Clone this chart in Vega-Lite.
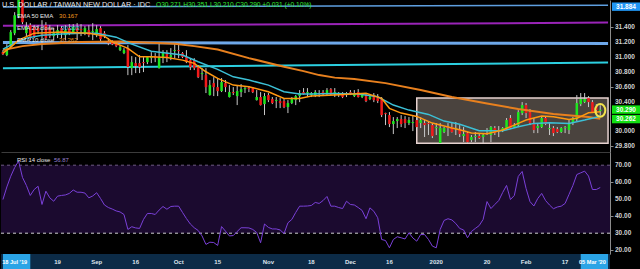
{
"$schema": "https://vega.github.io/schema/vega-lite/v6.json",
"background": "#000000",
"padding": 0,
"spacing": 0,
"config": {
  "view": {"stroke": null},
  "font": "Liberation Sans",
  "axisX": {"labels": false, "ticks": false, "grid": false, "title": null, "domainColor": "#3c3c3c", "domainWidth": 1},
  "axisY": {"grid": false, "title": null, "labels": false, "tickColor": "#8c8c8c", "tickSize": 3, "domainColor": "#8c8c8c"}
},
"datasets": {
  "candles": [
{"d":"2019-07-30","o":31.067,"h":31.094,"l":31.027,"c":31.040,"r":49.8},
{"d":"2019-07-31","o":31.027,"h":31.175,"l":31.013,"c":31.121,"r":57.2},
{"d":"2019-08-01","o":31.148,"h":31.364,"l":31.121,"c":31.337,"r":63.5},
{"d":"2019-08-02","o":31.323,"h":31.606,"l":31.296,"c":31.566,"r":68.6},
{"d":"2019-08-05","o":31.552,"h":31.884,"l":31.525,"c":31.800,"r":72.4},
{"d":"2019-08-06","o":31.780,"h":31.840,"l":31.445,"c":31.471,"r":62.8},
{"d":"2019-08-07","o":31.323,"h":31.471,"l":31.283,"c":31.404,"r":58.1},
{"d":"2019-08-08","o":31.431,"h":31.458,"l":31.229,"c":31.256,"r":52.2},
{"d":"2019-08-09","o":31.404,"h":31.431,"l":31.256,"c":31.283,"r":55.7},
{"d":"2019-08-12","o":31.391,"h":31.431,"l":31.310,"c":31.350,"r":57.6},
{"d":"2019-08-13","o":31.310,"h":31.498,"l":31.094,"c":31.296,"r":46.9},
{"d":"2019-08-14","o":31.431,"h":31.471,"l":31.229,"c":31.256,"r":54.7},
{"d":"2019-08-15","o":31.391,"h":31.431,"l":31.256,"c":31.283,"r":50.8},
{"d":"2019-08-16","o":31.283,"h":31.391,"l":31.229,"c":31.323,"r":48.8},
{"d":"2019-08-19","o":31.310,"h":31.431,"l":31.256,"c":31.364,"r":51.8},
{"d":"2019-08-20","o":31.391,"h":31.418,"l":31.256,"c":31.323,"r":52.2},
{"d":"2019-08-21","o":31.296,"h":31.431,"l":31.229,"c":31.364,"r":52.5},
{"d":"2019-08-22","o":31.391,"h":31.445,"l":31.296,"c":31.337,"r":53.4},
{"d":"2019-08-23","o":31.337,"h":31.445,"l":31.310,"c":31.404,"r":55.4},
{"d":"2019-08-26","o":31.391,"h":31.458,"l":31.229,"c":31.350,"r":54.1},
{"d":"2019-08-27","o":31.377,"h":31.445,"l":31.283,"c":31.364,"r":54.1},
{"d":"2019-08-28","o":31.323,"h":31.418,"l":31.296,"c":31.391,"r":53.6},
{"d":"2019-08-29","o":31.364,"h":31.431,"l":31.269,"c":31.296,"r":50.8},
{"d":"2019-08-30","o":31.337,"h":31.458,"l":31.229,"c":31.350,"r":51.9},
{"d":"2019-09-02","o":31.296,"h":31.431,"l":31.269,"c":31.377,"r":53.8},
{"d":"2019-09-03","o":31.391,"h":31.418,"l":31.215,"c":31.242,"r":50.4},
{"d":"2019-09-04","o":31.323,"h":31.350,"l":31.256,"c":31.283,"r":46.6},
{"d":"2019-09-05","o":31.215,"h":31.256,"l":31.161,"c":31.188,"r":45.1},
{"d":"2019-09-06","o":31.202,"h":31.229,"l":31.161,"c":31.175,"r":44.2},
{"d":"2019-09-09","o":31.188,"h":31.215,"l":31.134,"c":31.148,"r":43.1},
{"d":"2019-09-10","o":31.094,"h":31.161,"l":31.081,"c":31.134,"r":42.5},
{"d":"2019-09-11","o":31.054,"h":31.121,"l":31.040,"c":31.094,"r":41.0},
{"d":"2019-09-12","o":31.121,"h":31.161,"l":30.757,"c":30.865,"r":32.2},
{"d":"2019-09-13","o":30.851,"h":31.013,"l":30.757,"c":30.932,"r":33.8},
{"d":"2019-09-16","o":30.919,"h":31.000,"l":30.784,"c":30.878,"r":33.1},
{"d":"2019-09-17","o":30.919,"h":31.027,"l":30.784,"c":30.865,"r":32.8},
{"d":"2019-09-18","o":30.932,"h":31.000,"l":30.798,"c":30.919,"r":38.1},
{"d":"2019-09-19","o":30.932,"h":31.013,"l":30.905,"c":31.000,"r":41.6},
{"d":"2019-09-20","o":30.986,"h":31.067,"l":30.919,"c":31.000,"r":41.6},
{"d":"2019-09-23","o":31.013,"h":31.054,"l":30.932,"c":30.986,"r":41.0},
{"d":"2019-09-24","o":30.851,"h":31.188,"l":30.845,"c":31.000,"r":43.6},
{"d":"2019-09-25","o":30.986,"h":31.094,"l":30.919,"c":31.054,"r":45.7},
{"d":"2019-09-26","o":31.054,"h":31.094,"l":30.932,"c":31.000,"r":44.1},
{"d":"2019-09-27","o":31.000,"h":31.121,"l":30.959,"c":31.027,"r":45.7},
{"d":"2019-09-30","o":31.081,"h":31.188,"l":30.986,"c":31.094,"r":45.9},
{"d":"2019-10-01","o":31.094,"h":31.188,"l":30.986,"c":31.081,"r":45.9},
{"d":"2019-10-02","o":31.054,"h":31.067,"l":30.986,"c":31.000,"r":42.2},
{"d":"2019-10-03","o":31.000,"h":31.094,"l":30.919,"c":30.932,"r":38.6},
{"d":"2019-10-04","o":30.959,"h":30.986,"l":30.825,"c":30.865,"r":35.4},
{"d":"2019-10-07","o":30.959,"h":30.986,"l":30.825,"c":30.851,"r":33.2},
{"d":"2019-10-08","o":30.865,"h":30.892,"l":30.717,"c":30.730,"r":31.6},
{"d":"2019-10-09","o":30.771,"h":30.851,"l":30.690,"c":30.784,"r":28.4},
{"d":"2019-10-10","o":30.757,"h":30.851,"l":30.515,"c":30.595,"r":23.4},
{"d":"2019-10-11","o":30.488,"h":30.690,"l":30.480,"c":30.622,"r":24.7},
{"d":"2019-10-14","o":30.649,"h":30.730,"l":30.474,"c":30.595,"r":24.5},
{"d":"2019-10-15","o":30.595,"h":30.717,"l":30.474,"c":30.541,"r":22.8},
{"d":"2019-10-16","o":30.541,"h":30.717,"l":30.528,"c":30.663,"r":33.9},
{"d":"2019-10-17","o":30.649,"h":30.690,"l":30.528,"c":30.595,"r":31.2},
{"d":"2019-10-18","o":30.461,"h":30.622,"l":30.455,"c":30.528,"r":28.4},
{"d":"2019-10-21","o":30.528,"h":30.595,"l":30.488,"c":30.515,"r":28.6},
{"d":"2019-10-22","o":30.474,"h":30.622,"l":30.353,"c":30.541,"r":31.0},
{"d":"2019-10-23","o":30.528,"h":30.636,"l":30.461,"c":30.568,"r":33.2},
{"d":"2019-10-24","o":30.568,"h":30.595,"l":30.515,"c":30.582,"r":33.2},
{"d":"2019-10-25","o":30.582,"h":30.609,"l":30.528,"c":30.568,"r":33.1},
{"d":"2019-10-28","o":30.582,"h":30.595,"l":30.515,"c":30.528,"r":32.2},
{"d":"2019-10-29","o":30.420,"h":30.555,"l":30.414,"c":30.461,"r":30.4},
{"d":"2019-10-30","o":30.461,"h":30.528,"l":30.347,"c":30.353,"r":24.4},
{"d":"2019-10-31","o":30.366,"h":30.515,"l":30.218,"c":30.474,"r":35.4},
{"d":"2019-11-01","o":30.488,"h":30.515,"l":30.393,"c":30.420,"r":33.4},
{"d":"2019-11-04","o":30.434,"h":30.461,"l":30.366,"c":30.380,"r":32.5},
{"d":"2019-11-05","o":30.407,"h":30.461,"l":30.312,"c":30.420,"r":32.5},
{"d":"2019-11-06","o":30.407,"h":30.447,"l":30.312,"c":30.380,"r":31.9},
{"d":"2019-11-07","o":30.407,"h":30.434,"l":30.312,"c":30.326,"r":29.8},
{"d":"2019-11-08","o":30.326,"h":30.420,"l":30.245,"c":30.380,"r":36.1},
{"d":"2019-11-11","o":30.380,"h":30.461,"l":30.366,"c":30.434,"r":38.1},
{"d":"2019-11-12","o":30.420,"h":30.488,"l":30.353,"c":30.474,"r":42.2},
{"d":"2019-11-13","o":30.474,"h":30.555,"l":30.393,"c":30.515,"r":45.9},
{"d":"2019-11-14","o":30.528,"h":30.582,"l":30.495,"c":30.501,"r":45.9},
{"d":"2019-11-15","o":30.515,"h":30.582,"l":30.461,"c":30.528,"r":46.0},
{"d":"2019-11-18","o":30.488,"h":30.528,"l":30.461,"c":30.515,"r":46.3},
{"d":"2019-11-19","o":30.488,"h":30.555,"l":30.461,"c":30.528,"r":48.1},
{"d":"2019-11-20","o":30.515,"h":30.555,"l":30.461,"c":30.501,"r":47.5},
{"d":"2019-11-21","o":30.528,"h":30.555,"l":30.474,"c":30.501,"r":49.2},
{"d":"2019-11-22","o":30.515,"h":30.582,"l":30.488,"c":30.555,"r":51.6},
{"d":"2019-11-25","o":30.568,"h":30.582,"l":30.488,"c":30.501,"r":45.9},
{"d":"2019-11-26","o":30.515,"h":30.582,"l":30.461,"c":30.528,"r":45.9},
{"d":"2019-11-27","o":30.515,"h":30.528,"l":30.461,"c":30.501,"r":45.1},
{"d":"2019-11-28","o":30.501,"h":30.528,"l":30.447,"c":30.461,"r":44.5},
{"d":"2019-11-29","o":30.488,"h":30.528,"l":30.461,"c":30.501,"r":48.8},
{"d":"2019-12-02","o":30.528,"h":30.555,"l":30.488,"c":30.501,"r":46.9},
{"d":"2019-12-03","o":30.474,"h":30.555,"l":30.461,"c":30.501,"r":46.6},
{"d":"2019-12-04","o":30.528,"h":30.568,"l":30.455,"c":30.461,"r":45.1},
{"d":"2019-12-05","o":30.461,"h":30.515,"l":30.447,"c":30.501,"r":43.4},
{"d":"2019-12-06","o":30.474,"h":30.501,"l":30.393,"c":30.407,"r":38.5},
{"d":"2019-12-09","o":30.434,"h":30.501,"l":30.420,"c":30.461,"r":44.9},
{"d":"2019-12-10","o":30.461,"h":30.515,"l":30.393,"c":30.420,"r":42.9},
{"d":"2019-12-11","o":30.447,"h":30.501,"l":30.380,"c":30.407,"r":39.1},
{"d":"2019-12-12","o":30.434,"h":30.461,"l":30.191,"c":30.218,"r":26.3},
{"d":"2019-12-13","o":30.245,"h":30.250,"l":30.083,"c":30.231,"r":25.7},
{"d":"2019-12-16","o":30.218,"h":30.258,"l":30.056,"c":30.097,"r":21.4},
{"d":"2019-12-17","o":30.097,"h":30.191,"l":29.962,"c":30.137,"r":26.3},
{"d":"2019-12-18","o":30.137,"h":30.191,"l":30.043,"c":30.164,"r":27.9},
{"d":"2019-12-19","o":30.164,"h":30.218,"l":30.056,"c":30.097,"r":27.3},
{"d":"2019-12-20","o":30.164,"h":30.204,"l":30.043,"c":30.110,"r":26.6},
{"d":"2019-12-23","o":30.110,"h":30.191,"l":30.083,"c":30.151,"r":30.2},
{"d":"2019-12-24","o":30.110,"h":30.204,"l":30.002,"c":30.124,"r":27.2},
{"d":"2019-12-25","o":30.151,"h":30.191,"l":30.043,"c":30.056,"r":25.3},
{"d":"2019-12-26","o":30.110,"h":30.191,"l":30.043,"c":30.151,"r":29.2},
{"d":"2019-12-27","o":30.110,"h":30.151,"l":29.922,"c":30.083,"r":29.2},
{"d":"2019-12-30","o":30.110,"h":30.124,"l":29.949,"c":30.097,"r":26.3},
{"d":"2019-12-31","o":30.083,"h":30.110,"l":29.908,"c":29.935,"r":22.4},
{"d":"2020-01-01","o":30.043,"h":30.110,"l":29.949,"c":30.056,"r":21.4},
{"d":"2020-01-02","o":29.841,"h":30.110,"l":29.835,"c":30.043,"r":32.2},
{"d":"2020-01-03","o":29.989,"h":30.056,"l":29.975,"c":30.043,"r":37.5},
{"d":"2020-01-06","o":30.056,"h":30.110,"l":29.935,"c":30.043,"r":38.5},
{"d":"2020-01-07","o":30.056,"h":30.110,"l":29.982,"c":29.989,"r":37.8},
{"d":"2020-01-08","o":30.029,"h":30.124,"l":29.949,"c":30.043,"r":35.7},
{"d":"2020-01-09","o":30.029,"h":30.083,"l":29.922,"c":29.962,"r":32.8},
{"d":"2020-01-10","o":29.935,"h":30.056,"l":29.854,"c":29.962,"r":31.9},
{"d":"2020-01-13","o":29.975,"h":29.989,"l":29.848,"c":29.854,"r":27.3},
{"d":"2020-01-14","o":29.881,"h":29.949,"l":29.854,"c":29.922,"r":31.0},
{"d":"2020-01-15","o":29.922,"h":29.989,"l":29.854,"c":29.935,"r":32.8},
{"d":"2020-01-16","o":29.935,"h":29.975,"l":29.895,"c":29.908,"r":34.5},
{"d":"2020-01-17","o":29.922,"h":29.975,"l":29.841,"c":29.949,"r":38.1},
{"d":"2020-01-20","o":30.002,"h":30.043,"l":29.949,"c":30.016,"r":48.6},
{"d":"2020-01-21","o":29.949,"h":30.070,"l":29.854,"c":30.056,"r":44.5},
{"d":"2020-01-22","o":30.043,"h":30.070,"l":29.949,"c":29.975,"r":46.9},
{"d":"2020-01-23","o":30.002,"h":30.070,"l":29.922,"c":30.016,"r":49.2},
{"d":"2020-01-24","o":30.002,"h":30.056,"l":29.989,"c":30.043,"r":53.9},
{"d":"2020-01-27","o":30.043,"h":30.178,"l":30.016,"c":30.151,"r":58.1},
{"d":"2020-01-28","o":30.178,"h":30.218,"l":30.029,"c":30.043,"r":49.8},
{"d":"2020-01-29","o":30.056,"h":30.110,"l":30.043,"c":30.083,"r":52.2},
{"d":"2020-01-30","o":30.083,"h":30.285,"l":30.056,"c":30.258,"r":63.4},
{"d":"2020-01-31","o":30.245,"h":30.393,"l":30.218,"c":30.353,"r":66.3},
{"d":"2020-02-03","o":30.353,"h":30.380,"l":30.178,"c":30.245,"r":56.3},
{"d":"2020-02-04","o":30.258,"h":30.299,"l":30.083,"c":30.110,"r":48.6},
{"d":"2020-02-05","o":30.097,"h":30.178,"l":29.975,"c":30.016,"r":46.0},
{"d":"2020-02-06","o":30.043,"h":30.110,"l":29.975,"c":30.070,"r":50.4},
{"d":"2020-02-07","o":30.056,"h":30.204,"l":30.043,"c":30.178,"r":53.4},
{"d":"2020-02-10","o":30.178,"h":30.204,"l":30.083,"c":30.097,"r":49.2},
{"d":"2020-02-11","o":30.029,"h":30.110,"l":29.949,"c":30.043,"r":46.6},
{"d":"2020-02-12","o":30.043,"h":30.070,"l":29.935,"c":29.975,"r":44.4},
{"d":"2020-02-13","o":30.029,"h":30.056,"l":29.975,"c":29.989,"r":45.4},
{"d":"2020-02-14","o":29.989,"h":30.056,"l":29.975,"c":30.043,"r":45.9},
{"d":"2020-02-17","o":30.043,"h":30.070,"l":29.975,"c":30.056,"r":47.5},
{"d":"2020-02-18","o":30.016,"h":30.151,"l":29.962,"c":30.097,"r":52.8},
{"d":"2020-02-19","o":30.110,"h":30.191,"l":30.083,"c":30.178,"r":58.1},
{"d":"2020-02-20","o":30.164,"h":30.488,"l":30.137,"c":30.380,"r":64.5},
{"d":"2020-02-21","o":30.366,"h":30.515,"l":30.339,"c":30.434,"r":65.5},
{"d":"2020-02-24","o":30.393,"h":30.515,"l":30.380,"c":30.434,"r":66.5},
{"d":"2020-02-25","o":30.447,"h":30.474,"l":30.326,"c":30.393,"r":63.6},
{"d":"2020-02-26","o":30.393,"h":30.420,"l":30.245,"c":30.258,"r":55.7},
{"d":"2020-02-27","o":30.339,"h":30.366,"l":30.245,"c":30.285,"r":55.7},
{"d":"2020-02-28","o":30.271,"h":30.351,"l":30.210,"c":30.290,"r":56.87}
  ],
  "e50": [
{"d":"2019-07-30","v":31.094},{"d":"2019-08-06","v":31.148},{"d":"2019-08-13","v":31.175},{"d":"2019-08-27","v":31.202},{"d":"2019-09-10","v":31.209},{"d":"2019-09-20","v":31.195},{"d":"2019-09-30","v":31.180},{"d":"2019-10-07","v":31.148},{"d":"2019-10-15","v":31.101},{"d":"2019-10-25","v":30.986},{"d":"2019-11-07","v":30.869},{"d":"2019-11-14","v":30.811},{"d":"2019-11-20","v":30.757},{"d":"2019-11-26","v":30.723},{"d":"2019-12-03","v":30.703},{"d":"2019-12-13","v":30.649},{"d":"2019-12-26","v":30.555},{"d":"2020-01-07","v":30.461},{"d":"2020-01-20","v":30.373},{"d":"2020-01-30","v":30.300},{"d":"2020-02-12","v":30.231},{"d":"2020-02-25","v":30.191},{"d":"2020-02-28","v":30.167}
  ],
  "e20": [
{"d":"2019-07-30","v":31.108},{"d":"2019-08-02","v":31.188},{"d":"2019-08-07","v":31.256},{"d":"2019-08-13","v":31.296},{"d":"2019-08-20","v":31.310},{"d":"2019-08-27","v":31.323},{"d":"2019-09-02","v":31.323},{"d":"2019-09-09","v":31.269},{"d":"2019-09-13","v":31.175},{"d":"2019-09-20","v":31.078},{"d":"2019-10-02","v":31.027},{"d":"2019-10-08","v":30.937},{"d":"2019-10-15","v":30.834},{"d":"2019-10-21","v":30.734},{"d":"2019-10-25","v":30.690},{"d":"2019-11-01","v":30.622},{"d":"2019-11-07","v":30.532},{"d":"2019-11-13","v":30.501},{"d":"2019-11-18","v":30.501},{"d":"2019-11-26","v":30.508},{"d":"2019-12-04","v":30.501},{"d":"2019-12-11","v":30.465},{"d":"2019-12-17","v":30.353},{"d":"2019-12-23","v":30.285},{"d":"2019-12-30","v":30.227},{"d":"2020-01-03","v":30.137},{"d":"2020-01-09","v":30.093},{"d":"2020-01-16","v":30.006},{"d":"2020-01-24","v":30.006},{"d":"2020-01-30","v":30.060},{"d":"2020-02-05","v":30.106},{"d":"2020-02-11","v":30.114},{"d":"2020-02-18","v":30.106},{"d":"2020-02-24","v":30.151},{"d":"2020-02-28","v":30.203}
  ],
  "e10": [
{"d":"2019-07-30","v":31.054},{"d":"2019-08-01","v":31.134},{"d":"2019-08-05","v":31.229},{"d":"2019-08-09","v":31.323},{"d":"2019-08-20","v":31.337},{"d":"2019-08-29","v":31.323},{"d":"2019-09-04","v":31.283},{"d":"2019-09-06","v":31.205},{"d":"2019-09-12","v":31.117},{"d":"2019-09-17","v":31.004},{"d":"2019-09-20","v":31.004},{"d":"2019-09-26","v":30.996},{"d":"2019-10-02","v":30.959},{"d":"2019-10-07","v":30.915},{"d":"2019-10-10","v":30.802},{"d":"2019-10-15","v":30.713},{"d":"2019-10-21","v":30.622},{"d":"2019-10-25","v":30.600},{"d":"2019-11-01","v":30.532},{"d":"2019-11-07","v":30.443},{"d":"2019-11-13","v":30.443},{"d":"2019-11-18","v":30.474},{"d":"2019-11-26","v":30.488},{"d":"2019-12-06","v":30.511},{"d":"2019-12-12","v":30.443},{"d":"2019-12-16","v":30.309},{"d":"2019-12-19","v":30.245},{"d":"2019-12-25","v":30.200},{"d":"2019-12-31","v":30.110},{"d":"2020-01-07","v":30.043},{"d":"2020-01-09","v":30.020},{"d":"2020-01-14","v":29.975},{"d":"2020-01-20","v":29.966},{"d":"2020-01-24","v":30.016},{"d":"2020-01-30","v":30.106},{"d":"2020-02-03","v":30.151},{"d":"2020-02-07","v":30.204},{"d":"2020-02-12","v":30.195},{"d":"2020-02-18","v":30.160},{"d":"2020-02-20","v":30.174},{"d":"2020-02-25","v":30.249},{"d":"2020-02-28","v":30.262}
  ],
  "ticks": [
{"d":"2019-08-19","t":"19"},{"d":"2019-09-02","t":"Sep"},{"d":"2019-09-16","t":"16"},{"d":"2019-10-01","t":"Oct"},{"d":"2019-10-15","t":"15"},{"d":"2019-11-01","t":"Nov"},{"d":"2019-11-18","t":"18"},{"d":"2019-12-02","t":"Dec"},{"d":"2019-12-16","t":"16"},{"d":"2020-01-01","t":"2020"},{"d":"2020-01-20","t":"20"},{"d":"2020-02-03","t":"Feb"},{"d":"2020-02-17","t":"17"}
  ],
  "tags": [
{"d":"2020-03-03","v":31.68,"t":"31.884","k":"blue"},
{"d":"2020-03-03","v":30.292,"t":"30.290","k":"green"},
{"d":"2020-03-03","v":30.164,"t":"30.262","k":"green"}
  ],
  "plab": [
{"d":"2020-03-03","v":31.4,"t":"31.400"},{"d":"2020-03-03","v":31.2,"t":"31.200"},{"d":"2020-03-03","v":31.0,"t":"31.000"},{"d":"2020-03-03","v":30.8,"t":"30.800"},{"d":"2020-03-03","v":30.6,"t":"30.600"},{"d":"2020-03-03","v":30.4,"t":"30.400"},{"d":"2020-03-03","v":30.0,"t":"30.000"},{"d":"2020-03-03","v":29.8,"t":"29.800"}
  ],
  "rlab": [
{"d":"2020-03-03","v":70,"t":"70.00"},{"d":"2020-03-03","v":60,"t":"60.00"},{"d":"2020-03-03","v":50,"t":"50.00"},{"d":"2020-03-03","v":40,"t":"40.00"},{"d":"2020-03-03","v":30,"t":"30.00"},{"d":"2020-03-03","v":20,"t":"20.00"}
  ]
},
"resolve": {"scale": {"x": "independent", "y": "independent"}},
"vconcat": [
{
  "width": 609, "height": 152,
  "layer": [
    {"data": {"values": [{"d":"2019-07-30","v":31.676},{"d":"2020-03-03","v":31.698}]},
     "mark": {"type": "line", "color": "#5e9fe0", "strokeWidth": 1.5, "clip": true},
     "encoding": {
       "x": {"field": "d", "type": "ordinal", "bandPosition": 0.5, "scale": {"type": "band", "paddingInner": 0, "paddingOuter": 0, "domain": ["2019-07-30","2019-07-31","2019-08-01","2019-08-02","2019-08-05","2019-08-06","2019-08-07","2019-08-08","2019-08-09","2019-08-12","2019-08-13","2019-08-14","2019-08-15","2019-08-16","2019-08-19","2019-08-20","2019-08-21","2019-08-22","2019-08-23","2019-08-26","2019-08-27","2019-08-28","2019-08-29","2019-08-30","2019-09-02","2019-09-03","2019-09-04","2019-09-05","2019-09-06","2019-09-09","2019-09-10","2019-09-11","2019-09-12","2019-09-13","2019-09-16","2019-09-17","2019-09-18","2019-09-19","2019-09-20","2019-09-23","2019-09-24","2019-09-25","2019-09-26","2019-09-27","2019-09-30","2019-10-01","2019-10-02","2019-10-03","2019-10-04","2019-10-07","2019-10-08","2019-10-09","2019-10-10","2019-10-11","2019-10-14","2019-10-15","2019-10-16","2019-10-17","2019-10-18","2019-10-21","2019-10-22","2019-10-23","2019-10-24","2019-10-25","2019-10-28","2019-10-29","2019-10-30","2019-10-31","2019-11-01","2019-11-04","2019-11-05","2019-11-06","2019-11-07","2019-11-08","2019-11-11","2019-11-12","2019-11-13","2019-11-14","2019-11-15","2019-11-18","2019-11-19","2019-11-20","2019-11-21","2019-11-22","2019-11-25","2019-11-26","2019-11-27","2019-11-28","2019-11-29","2019-12-02","2019-12-03","2019-12-04","2019-12-05","2019-12-06","2019-12-09","2019-12-10","2019-12-11","2019-12-12","2019-12-13","2019-12-16","2019-12-17","2019-12-18","2019-12-19","2019-12-20","2019-12-23","2019-12-24","2019-12-25","2019-12-26","2019-12-27","2019-12-30","2019-12-31","2020-01-01","2020-01-02","2020-01-03","2020-01-06","2020-01-07","2020-01-08","2020-01-09","2020-01-10","2020-01-13","2020-01-14","2020-01-15","2020-01-16","2020-01-17","2020-01-20","2020-01-21","2020-01-22","2020-01-23","2020-01-24","2020-01-27","2020-01-28","2020-01-29","2020-01-30","2020-01-31","2020-02-03","2020-02-04","2020-02-05","2020-02-06","2020-02-07","2020-02-10","2020-02-11","2020-02-12","2020-02-13","2020-02-14","2020-02-17","2020-02-18","2020-02-19","2020-02-20","2020-02-21","2020-02-24","2020-02-25","2020-02-26","2020-02-27","2020-02-28","2020-03-02","2020-03-03"]}},
       "y": {"field": "v", "type": "quantitative", "scale": {"domain": [29.72, 31.77], "nice": false, "zero": false}, "axis": {"orient": "right", "values": [31.6, 31.4, 31.2, 31.0, 30.8, 30.6, 30.4, 30.2, 30.0, 29.8], "labels": false}}
     }},
    {"data": {"values": [{"d":"2019-07-30","v":31.422},{"d":"2020-03-03","v":31.465}]},
     "mark": {"type": "line", "color": "#9a24b8", "strokeWidth": 2, "clip": true},
     "encoding": {"x": {"field": "d", "type": "ordinal", "bandPosition": 0.5}, "y": {"field": "v", "type": "quantitative"}}},
    {"data": {"values": [{"d":"2019-07-30","v":31.197},{"d":"2020-03-03","v":31.183}]},
     "mark": {"type": "line", "color": "#6ea8ea", "strokeWidth": 3, "clip": true},
     "encoding": {"x": {"field": "d", "type": "ordinal", "bandPosition": 0.5}, "y": {"field": "v", "type": "quantitative"}}},
    {"data": {"values": [{"d":"2019-07-30","v":30.851},{"d":"2020-03-03","v":30.926}]},
     "mark": {"type": "line", "color": "#2ccfe0", "strokeWidth": 2, "clip": true},
     "encoding": {"x": {"field": "d", "type": "ordinal", "bandPosition": 0.5}, "y": {"field": "v", "type": "quantitative"}}},
    {"data": {"values": [{"a":"2019-12-25","b":"2020-03-03","lo":29.837,"hi":30.447}]},
     "mark": {"type": "rect", "fill": "#4a433e", "stroke": "#e6d2d0", "strokeWidth": 1.5},
     "encoding": {"x": {"field": "a", "type": "ordinal"}, "x2": {"field": "b"}, "y": {"field": "lo", "type": "quantitative"}, "y2": {"field": "hi"}}},
    {"data": {"name": "candles"},
     "mark": {"type": "rule", "color": "#c8c8c8", "strokeWidth": 1, "clip": true},
     "encoding": {"x": {"field": "d", "type": "ordinal", "bandPosition": 0.5}, "y": {"field": "l", "type": "quantitative"}, "y2": {"field": "h"}}},
    {"data": {"name": "candles"},
     "mark": {"type": "bar", "width": {"band": 0.65}, "clip": true},
     "encoding": {"x": {"field": "d", "type": "ordinal"}, "y": {"field": "o", "type": "quantitative"}, "y2": {"field": "c"},
       "color": {"condition": {"test": "datum.c >= datum.o", "value": "#1ee61e"}, "value": "#f21a1a"}}},
    {"data": {"name": "e50"},
     "mark": {"type": "line", "color": "#e8801e", "strokeWidth": 2, "clip": true},
     "encoding": {"x": {"field": "d", "type": "ordinal", "bandPosition": 0.5}, "y": {"field": "v", "type": "quantitative"}}},
    {"data": {"name": "e20"},
     "mark": {"type": "line", "color": "#3cc0d6", "strokeWidth": 1.5, "clip": true},
     "encoding": {"x": {"field": "d", "type": "ordinal", "bandPosition": 0.5}, "y": {"field": "v", "type": "quantitative"}}},
    {"data": {"name": "e10"},
     "mark": {"type": "line", "color": "#ff9810", "strokeWidth": 1.5, "clip": true},
     "encoding": {"x": {"field": "d", "type": "ordinal", "bandPosition": 0.5}, "y": {"field": "v", "type": "quantitative"}}},
    {"data": {"values": [{"d":"2020-02-28","v":30.282}]},
     "mark": {"type": "point", "shape": "M0,-1 A0.8,1 0 1,1 0,1 A0.8,1 0 1,1 0,-1 Z", "size": 160, "filled": false, "stroke": "#f2e34c", "strokeWidth": 2, "opacity": 1},
     "encoding": {"x": {"field": "d", "type": "ordinal", "bandPosition": 0.5}, "y": {"field": "v", "type": "quantitative"}}},
    {"data": {"name": "plab"},
     "mark": {"type": "text", "align": "left", "baseline": "middle", "dx": 5, "color": "#d2d2d2", "fontSize": 6.5, "fontWeight": "bold", "clip": false},
     "encoding": {"x": {"field": "d", "type": "ordinal", "bandPosition": 1}, "y": {"field": "v", "type": "quantitative"}, "text": {"field": "t"}}},
    {"data": {"name": "tags"},
     "mark": {"type": "point", "shape": "M0.2,-0.42 L3.05,-0.42 L3.05,0.42 L0.2,0.42 Z", "size": 400, "filled": true, "opacity": 1, "strokeWidth": 0, "clip": false},
     "encoding": {"x": {"field": "d", "type": "ordinal", "bandPosition": 1}, "y": {"field": "v", "type": "quantitative"},
       "color": {"field": "k", "type": "nominal", "scale": {"domain": ["blue", "green"], "range": ["#2196f3", "#13e013"]}, "legend": null}}},
    {"data": {"name": "tags"},
     "mark": {"type": "text", "align": "center", "baseline": "middle", "dx": 16, "color": "#ffffff", "fontSize": 6.5, "fontWeight": "bold", "clip": false},
     "encoding": {"x": {"field": "d", "type": "ordinal", "bandPosition": 1}, "y": {"field": "v", "type": "quantitative"}, "text": {"field": "t"}}},
    {"data": {"values": [{"d":"2019-07-30","v":31.70,"t":"U.S. DOLLAR / TAIWAN NEW DOLLAR · IDC"}]},
     "mark": {"type": "text", "align": "left", "baseline": "middle", "dx": 1, "color": "#ececec", "fontSize": 7.3},
     "encoding": {"x": {"field": "d", "type": "ordinal", "bandPosition": 0}, "y": {"field": "v", "type": "quantitative"}, "text": {"field": "t"}}},
    {"data": {"values": [{"d":"2019-07-30","v":31.70,"t":"O30.271 H30.351 L30.210 C30.290 +0.031 (+0.10%)"}]},
     "mark": {"type": "text", "align": "left", "baseline": "middle", "dx": 155, "color": "#2ee62e", "fontSize": 6.6},
     "encoding": {"x": {"field": "d", "type": "ordinal", "bandPosition": 0}, "y": {"field": "v", "type": "quantitative"}, "text": {"field": "t"}}},
    {"data": {"values": [{"d":"2019-07-30","v":31.559,"t":"EMA 50 EMA"},{"d":"2019-07-30","v":31.397,"t":"EMA 20 close"},{"d":"2019-07-30","v":31.236,"t":"EMA 10 close"}]},
     "mark": {"type": "text", "align": "left", "baseline": "middle", "dx": 16, "color": "#e6e6e6", "fontSize": 6.1},
     "encoding": {"x": {"field": "d", "type": "ordinal", "bandPosition": 0}, "y": {"field": "v", "type": "quantitative"}, "text": {"field": "t"}}},
    {"data": {"values": [{"d":"2019-07-30","v":31.559,"t":"30.167"},{"d":"2019-07-30","v":31.236,"t":"30.262"}]},
     "mark": {"type": "text", "align": "left", "baseline": "middle", "dx": 58, "color": "#f39a1e", "fontSize": 6.1},
     "encoding": {"x": {"field": "d", "type": "ordinal", "bandPosition": 0}, "y": {"field": "v", "type": "quantitative"}, "text": {"field": "t"}}},
    {"data": {"values": [{"d":"2019-07-30","v":31.397,"t":"30.203"}]},
     "mark": {"type": "text", "align": "left", "baseline": "middle", "dx": 60, "color": "#4fc8e0", "fontSize": 6.1},
     "encoding": {"x": {"field": "d", "type": "ordinal", "bandPosition": 0}, "y": {"field": "v", "type": "quantitative"}, "text": {"field": "t"}}}
  ]
},
{
  "width": 609, "height": 102,
  "layer": [
    {"data": {"values": [{"a":30,"b":70}]},
     "mark": {"type": "rect", "color": "#1b0a2f"},
     "encoding": {"y": {"field": "a", "type": "quantitative", "scale": {"domain": [17.76, 77.76], "nice": false, "zero": false}, "axis": {"orient": "right", "values": [70, 60, 50, 40, 30, 20], "labels": false}}, "y2": {"field": "b"}}},
    {"data": {"values": [{"y":70}]},
     "mark": {"type": "rule", "color": "#6e5a86", "strokeDash": [3, 3], "strokeWidth": 1},
     "encoding": {"y": {"field": "y", "type": "quantitative"}}},
    {"data": {"values": [{"y":30}]},
     "mark": {"type": "rule", "color": "#cfcfcf", "strokeDash": [3, 3], "strokeWidth": 1},
     "encoding": {"y": {"field": "y", "type": "quantitative"}}},
    {"data": {"name": "candles"},
     "mark": {"type": "line", "color": "#7a40d8", "strokeWidth": 1, "clip": true},
     "encoding": {
       "x": {"field": "d", "type": "ordinal", "bandPosition": 0.5, "scale": {"type": "band", "paddingInner": 0, "paddingOuter": 0, "domain": ["2019-07-30","2019-07-31","2019-08-01","2019-08-02","2019-08-05","2019-08-06","2019-08-07","2019-08-08","2019-08-09","2019-08-12","2019-08-13","2019-08-14","2019-08-15","2019-08-16","2019-08-19","2019-08-20","2019-08-21","2019-08-22","2019-08-23","2019-08-26","2019-08-27","2019-08-28","2019-08-29","2019-08-30","2019-09-02","2019-09-03","2019-09-04","2019-09-05","2019-09-06","2019-09-09","2019-09-10","2019-09-11","2019-09-12","2019-09-13","2019-09-16","2019-09-17","2019-09-18","2019-09-19","2019-09-20","2019-09-23","2019-09-24","2019-09-25","2019-09-26","2019-09-27","2019-09-30","2019-10-01","2019-10-02","2019-10-03","2019-10-04","2019-10-07","2019-10-08","2019-10-09","2019-10-10","2019-10-11","2019-10-14","2019-10-15","2019-10-16","2019-10-17","2019-10-18","2019-10-21","2019-10-22","2019-10-23","2019-10-24","2019-10-25","2019-10-28","2019-10-29","2019-10-30","2019-10-31","2019-11-01","2019-11-04","2019-11-05","2019-11-06","2019-11-07","2019-11-08","2019-11-11","2019-11-12","2019-11-13","2019-11-14","2019-11-15","2019-11-18","2019-11-19","2019-11-20","2019-11-21","2019-11-22","2019-11-25","2019-11-26","2019-11-27","2019-11-28","2019-11-29","2019-12-02","2019-12-03","2019-12-04","2019-12-05","2019-12-06","2019-12-09","2019-12-10","2019-12-11","2019-12-12","2019-12-13","2019-12-16","2019-12-17","2019-12-18","2019-12-19","2019-12-20","2019-12-23","2019-12-24","2019-12-25","2019-12-26","2019-12-27","2019-12-30","2019-12-31","2020-01-01","2020-01-02","2020-01-03","2020-01-06","2020-01-07","2020-01-08","2020-01-09","2020-01-10","2020-01-13","2020-01-14","2020-01-15","2020-01-16","2020-01-17","2020-01-20","2020-01-21","2020-01-22","2020-01-23","2020-01-24","2020-01-27","2020-01-28","2020-01-29","2020-01-30","2020-01-31","2020-02-03","2020-02-04","2020-02-05","2020-02-06","2020-02-07","2020-02-10","2020-02-11","2020-02-12","2020-02-13","2020-02-14","2020-02-17","2020-02-18","2020-02-19","2020-02-20","2020-02-21","2020-02-24","2020-02-25","2020-02-26","2020-02-27","2020-02-28","2020-03-02","2020-03-03"]}},
       "y": {"field": "r", "type": "quantitative"}
     }},
    {"data": {"name": "rlab"},
     "mark": {"type": "text", "align": "left", "baseline": "middle", "dx": 5, "color": "#d2d2d2", "fontSize": 6.5, "fontWeight": "bold", "clip": false},
     "encoding": {"x": {"field": "d", "type": "ordinal", "bandPosition": 1}, "y": {"field": "v", "type": "quantitative"}, "text": {"field": "t"}}},
    {"data": {"values": [{"d":"2019-07-30","v":72.9,"t":"RSI 14 close"}]},
     "mark": {"type": "text", "align": "left", "baseline": "middle", "dx": 16, "color": "#e6e6e6", "fontSize": 5.9},
     "encoding": {"x": {"field": "d", "type": "ordinal", "bandPosition": 0}, "y": {"field": "v", "type": "quantitative"}, "text": {"field": "t"}}},
    {"data": {"values": [{"d":"2019-07-30","v":72.9,"t":"56.87"}]},
     "mark": {"type": "text", "align": "left", "baseline": "middle", "dx": 53, "color": "#9a80d0", "fontSize": 5.9},
     "encoding": {"x": {"field": "d", "type": "ordinal", "bandPosition": 0}, "y": {"field": "v", "type": "quantitative"}, "text": {"field": "t"}}}
  ]
},
{
  "width": 609, "height": 15,
  "view": {"fill": "#0c2b47", "stroke": null},
  "layer": [
    {"data": {"values": [{"a":"2019-07-30","b":"2019-08-08"},{"a":"2020-02-21","b":"2020-03-03"}]},
     "mark": {"type": "rect", "color": "#2ba4e6"},
     "encoding": {"x": {"field": "a", "type": "ordinal", "axis": null, "scale": {"type": "band", "paddingInner": 0, "paddingOuter": 0, "domain": ["2019-07-30","2019-07-31","2019-08-01","2019-08-02","2019-08-05","2019-08-06","2019-08-07","2019-08-08","2019-08-09","2019-08-12","2019-08-13","2019-08-14","2019-08-15","2019-08-16","2019-08-19","2019-08-20","2019-08-21","2019-08-22","2019-08-23","2019-08-26","2019-08-27","2019-08-28","2019-08-29","2019-08-30","2019-09-02","2019-09-03","2019-09-04","2019-09-05","2019-09-06","2019-09-09","2019-09-10","2019-09-11","2019-09-12","2019-09-13","2019-09-16","2019-09-17","2019-09-18","2019-09-19","2019-09-20","2019-09-23","2019-09-24","2019-09-25","2019-09-26","2019-09-27","2019-09-30","2019-10-01","2019-10-02","2019-10-03","2019-10-04","2019-10-07","2019-10-08","2019-10-09","2019-10-10","2019-10-11","2019-10-14","2019-10-15","2019-10-16","2019-10-17","2019-10-18","2019-10-21","2019-10-22","2019-10-23","2019-10-24","2019-10-25","2019-10-28","2019-10-29","2019-10-30","2019-10-31","2019-11-01","2019-11-04","2019-11-05","2019-11-06","2019-11-07","2019-11-08","2019-11-11","2019-11-12","2019-11-13","2019-11-14","2019-11-15","2019-11-18","2019-11-19","2019-11-20","2019-11-21","2019-11-22","2019-11-25","2019-11-26","2019-11-27","2019-11-28","2019-11-29","2019-12-02","2019-12-03","2019-12-04","2019-12-05","2019-12-06","2019-12-09","2019-12-10","2019-12-11","2019-12-12","2019-12-13","2019-12-16","2019-12-17","2019-12-18","2019-12-19","2019-12-20","2019-12-23","2019-12-24","2019-12-25","2019-12-26","2019-12-27","2019-12-30","2019-12-31","2020-01-01","2020-01-02","2020-01-03","2020-01-06","2020-01-07","2020-01-08","2020-01-09","2020-01-10","2020-01-13","2020-01-14","2020-01-15","2020-01-16","2020-01-17","2020-01-20","2020-01-21","2020-01-22","2020-01-23","2020-01-24","2020-01-27","2020-01-28","2020-01-29","2020-01-30","2020-01-31","2020-02-03","2020-02-04","2020-02-05","2020-02-06","2020-02-07","2020-02-10","2020-02-11","2020-02-12","2020-02-13","2020-02-14","2020-02-17","2020-02-18","2020-02-19","2020-02-20","2020-02-21","2020-02-24","2020-02-25","2020-02-26","2020-02-27","2020-02-28","2020-03-02","2020-03-03"]}}, "x2": {"field": "b"}}},
    {"data": {"name": "ticks"},
     "mark": {"type": "text", "color": "#dde4ec", "fontSize": 6, "baseline": "middle", "fontWeight": "bold"},
     "encoding": {"x": {"field": "d", "type": "ordinal", "bandPosition": 0.5, "axis": null}, "text": {"field": "t"}}},
    {"data": {"values": [{"d":"2019-08-02","t":"18 Jul '19"},{"d":"2020-02-26","t":"05 Mar '20"}]},
     "mark": {"type": "text", "color": "#ffffff", "fontSize": 5.6, "baseline": "middle", "fontWeight": "bold"},
     "encoding": {"x": {"field": "d", "type": "ordinal", "bandPosition": 0.5, "axis": null}, "text": {"field": "t"}}}
  ]
}
]
}
